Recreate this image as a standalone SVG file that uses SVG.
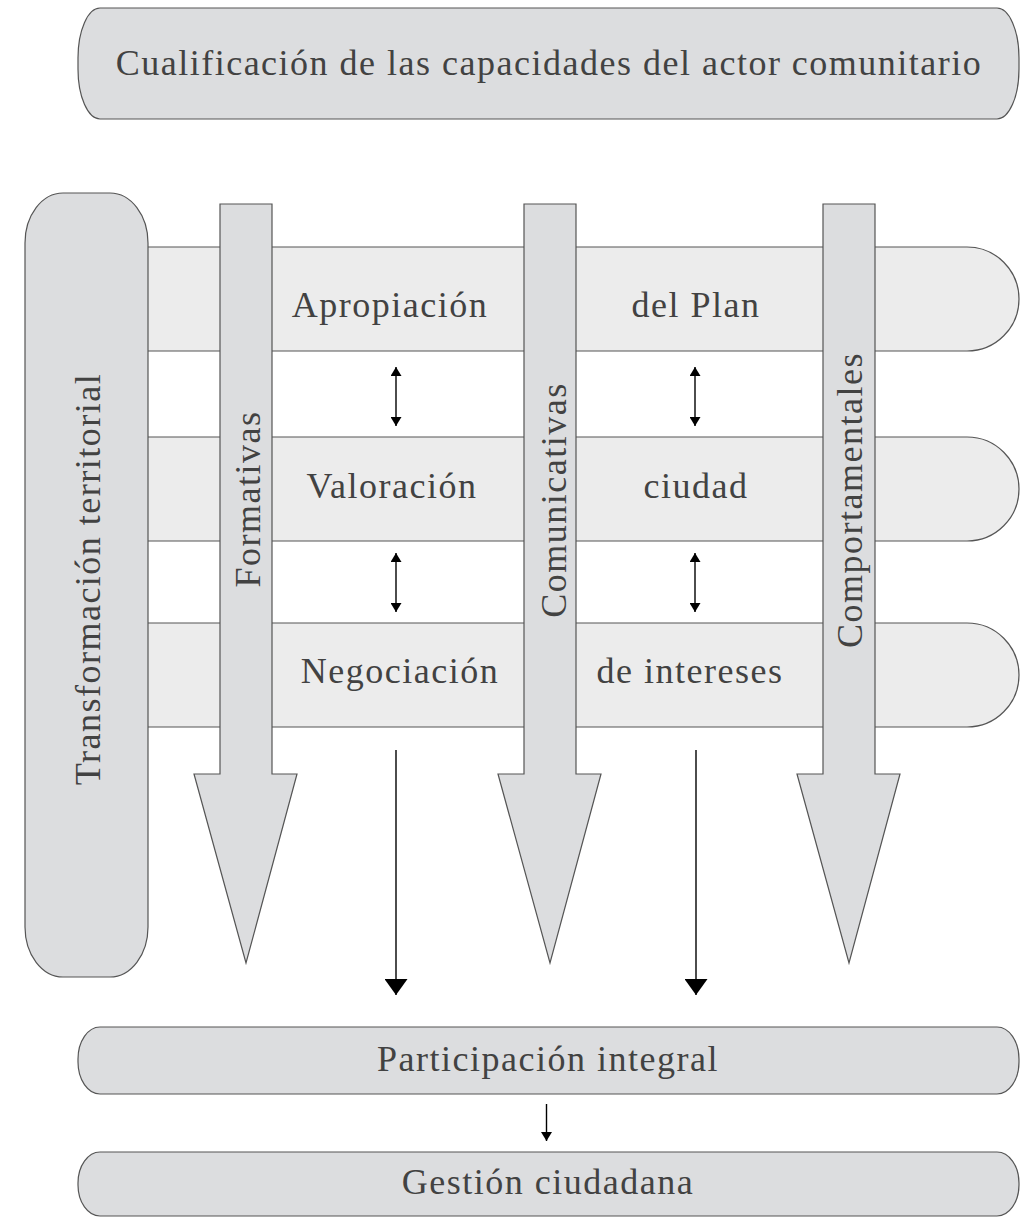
<svg xmlns="http://www.w3.org/2000/svg" width="1023" height="1219" viewBox="0 0 1023 1219">
<style>
.box{fill:#dcdddf;stroke:#555;stroke-width:1.2}
.band{fill:#ececec;stroke:#555;stroke-width:1.2}
.shaft{fill:#dcdddf;stroke:#555;stroke-width:1.2}
.t{font-family:"Liberation Serif","Times New Roman",serif;font-size:36px;letter-spacing:1.5px;fill:#424242;text-anchor:middle}
.ln{stroke:#000;stroke-width:1.4;fill:none}
</style>
<defs>
<marker id="big" viewBox="0 0 16 23" refX="16" refY="11.5" markerWidth="16" markerHeight="23" markerUnits="userSpaceOnUse" orient="auto"><path d="M0,0 L16,11.5 L0,23 Z" fill="#000"/></marker>
<marker id="sm" viewBox="0 0 9 11" refX="9" refY="5.5" markerWidth="9" markerHeight="11" markerUnits="userSpaceOnUse" orient="auto-start-reverse"><path d="M0,0 L9,5.5 L0,11 Z" fill="#000"/></marker>
</defs>
<rect width="1023" height="1219" fill="#fff"/>

<g id="top">
<rect class="box" x="78" y="8" width="941" height="111" rx="22" ry="50"/>
<text class="t" x="549" y="75">Cualificación de las capacidades del actor comunitario</text>
</g>

<g id="band1">
<path class="band" d="M148,247 H967 A52,52 0 0 1 967,351 H148"/>
<text class="t" x="390" y="317">Apropiación</text>
<text class="t" x="696" y="317">del Plan</text>
</g>
<g id="band2">
<path class="band" d="M148,437 H967 A52,52 0 0 1 967,541 H148"/>
<text class="t" x="392" y="498">Valoración</text>
<text class="t" x="696" y="498">ciudad</text>
</g>
<g id="band3">
<path class="band" d="M148,623 H967 A52,52 0 0 1 967,727 H148"/>
<text class="t" x="400" y="683">Negociación</text>
<text class="t" x="690" y="683">de intereses</text>
</g>

<g id="transformacion">
<rect class="box" x="25" y="193" width="123" height="784" rx="38" ry="50"/>
<text class="t" transform="translate(100,579) rotate(-90)">Transformación territorial</text>
</g>

<g id="formativas">
<path class="shaft" d="M220,204 H272 V774 H297 L246,963 L194,774 H220 Z"/>
<text class="t" transform="translate(260,499) rotate(-90)">Formativas</text>
</g>
<g id="comunicativas">
<path class="shaft" d="M524,204 H576 V774 H601 L550,963 L498,774 H524 Z"/>
<text class="t" transform="translate(566,500) rotate(-90)">Comunicativas</text>
</g>
<g id="comportamentales">
<path class="shaft" d="M823,204 H875 V774 H900 L849,963 L797,774 H823 Z"/>
<text class="t" transform="translate(862,500) rotate(-90)">Comportamentales</text>
</g>

<g id="participacion">
<rect class="box" x="78" y="1027" width="941" height="67" rx="22" ry="32"/>
<text class="t" x="548" y="1071">Participación integral</text>
</g>
<g id="gestion">
<rect class="box" x="78" y="1152" width="941" height="64" rx="22" ry="31"/>
<text class="t" x="548" y="1194">Gestión ciudadana</text>
</g>

<g id="connectors">
<line class="ln" x1="396" y1="367" x2="396" y2="426" marker-start="url(#sm)" marker-end="url(#sm)"/>
<line class="ln" x1="396" y1="553" x2="396" y2="612" marker-start="url(#sm)" marker-end="url(#sm)"/>
<line class="ln" x1="695" y1="367" x2="695" y2="426" marker-start="url(#sm)" marker-end="url(#sm)"/>
<line class="ln" x1="695" y1="553" x2="695" y2="612" marker-start="url(#sm)" marker-end="url(#sm)"/>
<line class="ln" x1="396" y1="750" x2="396" y2="995" marker-end="url(#big)"/>
<line class="ln" x1="696" y1="750" x2="696" y2="995" marker-end="url(#big)"/>
<line class="ln" x1="546.5" y1="1104" x2="546.5" y2="1141" marker-end="url(#sm)"/>
</g>
</svg>
